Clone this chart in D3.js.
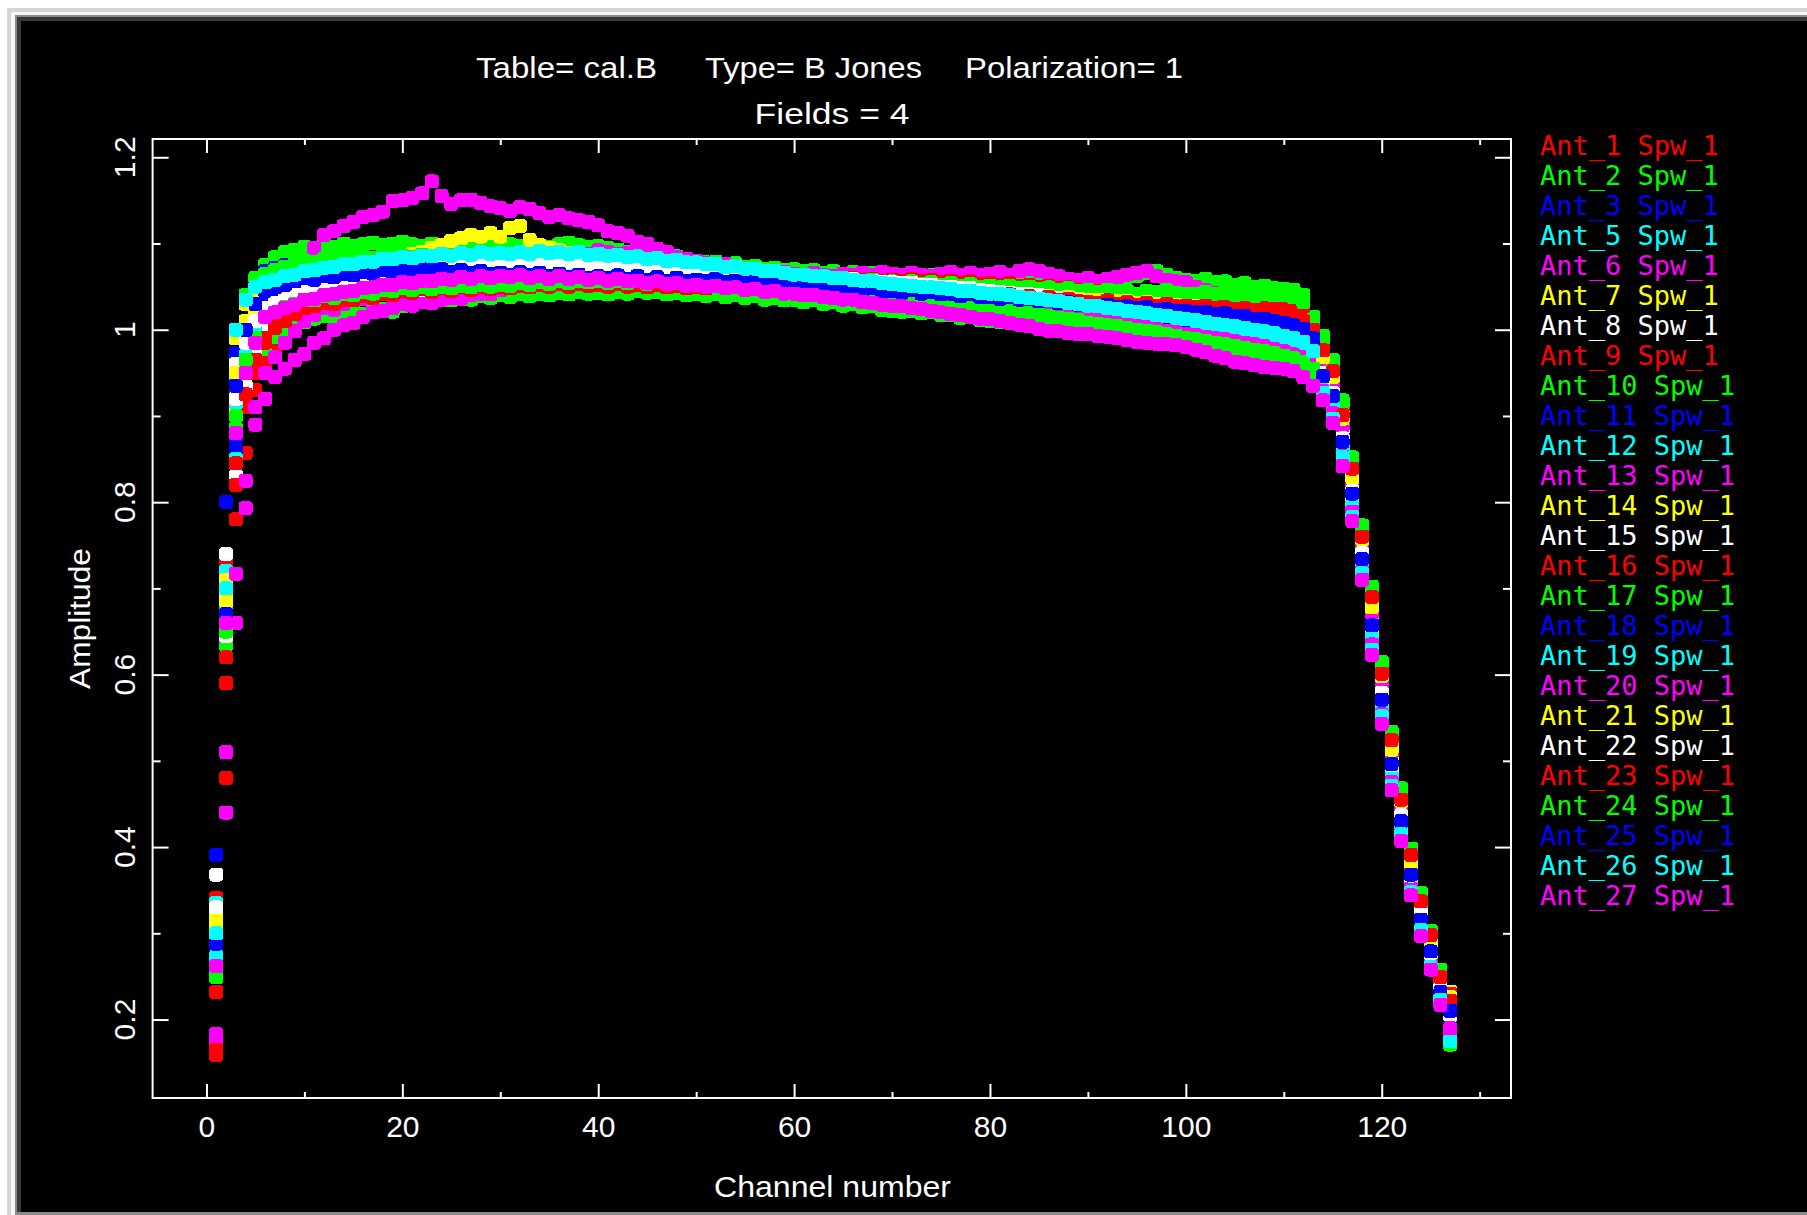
<!DOCTYPE html>
<html>
<head>
<meta charset="utf-8">
<script src="https://cdn.jsdelivr.net/npm/d3@7"></script>
<style>
  html, body { margin: 0; padding: 0; background: #ffffff; }
  svg { display: block; }
</style>
</head>
<body>
<svg id="chart" width="1807" height="1215"></svg>
<script>
// Bandpass (B Jones) amplitude per channel, one array per antenna.
// Values are amplitude x 1000, channels 1..127.
const ampAnt1 = [
  341, 730, 930, 975, 1000, 1004, 1012, 1021, 1027, 1035,
  1038, 1041, 1040, 1046, 1044, 1048, 1045, 1050, 1047, 1052,
  1049, 1053, 1050, 1056, 1052, 1054, 1057, 1053, 1058, 1055,
  1059, 1056, 1060, 1057, 1061, 1058, 1062, 1059, 1061, 1060,
  1063, 1059, 1061, 1058, 1062, 1057, 1060, 1056, 1059, 1058,
  1055, 1059, 1056, 1058, 1054, 1057, 1055, 1053, 1056, 1055,
  1052, 1056, 1054, 1057, 1053, 1055, 1052, 1056, 1053, 1054,
  1051, 1055, 1052, 1054, 1050, 1053, 1049, 1052, 1048, 1050,
  1047, 1049, 1045, 1048, 1044, 1046, 1042, 1045, 1041, 1042,
  1040, 1043, 1039, 1041, 1037, 1040, 1036, 1038, 1035, 1036,
  1034, 1037, 1033, 1035, 1032, 1034, 1030, 1031, 1029, 1028,
  1024, 1019, 1005, 970, 943, 895, 830, 755, 680, 596,
  515, 451, 383, 334, 291, 247, 217];
const ampAnt2 = [
  316, 665, 965, 1030, 1060, 1075, 1084, 1090, 1093, 1096,
  1094, 1098, 1096, 1100, 1097, 1099, 1101, 1098, 1100, 1102,
  1099, 1097, 1100, 1098, 1096, 1099, 1097, 1100, 1098, 1096,
  1099, 1097, 1095, 1098, 1096, 1099, 1101, 1098, 1096, 1097,
  1095, 1093, 1090, 1091, 1087, 1088, 1084, 1085, 1081, 1080,
  1078, 1079, 1076, 1077, 1073, 1074, 1071, 1072, 1069, 1070,
  1068, 1069, 1066, 1068, 1065, 1067, 1064, 1066, 1063, 1064,
  1062, 1065, 1061, 1063, 1060, 1062, 1059, 1063, 1060, 1061,
  1058, 1061, 1057, 1060, 1058, 1059, 1056, 1059, 1057, 1058,
  1056, 1059, 1058, 1061, 1062, 1066, 1068, 1064, 1060, 1058,
  1057, 1059, 1055, 1056, 1052, 1054, 1050, 1051, 1048, 1047,
  1046, 1040, 1015, 993, 965, 918, 852, 773, 702, 615,
  534, 468, 398, 347, 300, 250, 185];
const ampAnt3 = [
  391, 800, 973, 1035, 1060, 1068, 1072, 1075, 1073, 1076,
  1074, 1077, 1075, 1078, 1076, 1079, 1077, 1075, 1078, 1076,
  1079, 1077, 1080, 1078, 1076, 1079, 1081, 1078, 1080, 1077,
  1079, 1076, 1078, 1075, 1077, 1074, 1076, 1073, 1075, 1072,
  1074, 1070, 1072, 1068, 1070, 1066, 1068, 1064, 1066, 1063,
  1064, 1061, 1063, 1059, 1061, 1058, 1060, 1056, 1058, 1055,
  1056, 1053, 1055, 1051, 1053, 1049, 1051, 1047, 1049, 1045,
  1047, 1043, 1045, 1041, 1043, 1039, 1041, 1037, 1039, 1035,
  1037, 1033, 1035, 1031, 1033, 1029, 1031, 1027, 1028, 1025,
  1027, 1023, 1025, 1021, 1023, 1019, 1021, 1018, 1020, 1018,
  1016, 1019, 1014, 1016, 1012, 1014, 1010, 1011, 1007, 1005,
  1004, 1000, 988, 959, 932, 884, 819, 746, 668, 584,
  504, 442, 375, 326, 284, 241, 207];
const ampAnt5 = [
  335, 720, 940, 990, 1020, 1038, 1045, 1049, 1055, 1058,
  1061, 1064, 1066, 1069, 1070, 1073, 1075, 1077, 1078, 1080,
  1081, 1079, 1083, 1081, 1084, 1082, 1085, 1083, 1086, 1084,
  1087, 1085, 1086, 1084, 1087, 1085, 1086, 1083, 1085, 1084,
  1082, 1084, 1081, 1082, 1079, 1080, 1077, 1078, 1075, 1075,
  1073, 1074, 1071, 1072, 1069, 1068, 1066, 1067, 1064, 1062,
  1063, 1060, 1061, 1058, 1059, 1056, 1055, 1053, 1052, 1050,
  1051, 1048, 1049, 1046, 1047, 1044, 1045, 1042, 1043, 1040,
  1041, 1038, 1038, 1035, 1036, 1033, 1032, 1030, 1029, 1026,
  1026, 1023, 1023, 1020, 1020, 1017, 1016, 1014, 1013, 1010,
  1010, 1007, 1006, 1004, 1002, 999, 998, 995, 993, 990,
  989, 985, 975, 948, 921, 872, 808, 736, 655, 573,
  494, 432, 366, 318, 277, 234, 176];
const ampAnt6 = [
  176, 700, 900, 965, 1005, 1030, 1042, 1055, 1068, 1080,
  1095, 1110, 1114, 1120, 1125, 1131, 1133, 1137, 1149, 1150,
  1153, 1158, 1172, 1155, 1146, 1150, 1151, 1147, 1143, 1141,
  1138, 1142, 1140, 1135, 1131, 1133, 1129, 1127, 1125, 1121,
  1114, 1112, 1109, 1102, 1100, 1094, 1090, 1084, 1082, 1080,
  1077, 1074, 1076, 1072, 1070, 1071, 1068, 1066, 1067, 1065,
  1063, 1066, 1064, 1062, 1065, 1063, 1066, 1064, 1067, 1065,
  1063, 1066, 1064, 1062, 1065, 1067, 1064, 1066, 1063, 1065,
  1067, 1064, 1068, 1070, 1068, 1065, 1062, 1059, 1058, 1060,
  1057, 1059, 1061, 1064, 1066, 1068, 1062, 1058, 1056, 1055,
  1050, 1046, 1043, 1040, 1038, 1039, 1036, 1035, 1032, 1030,
  1028, 1020, 1000, 978, 950, 903, 837, 762, 688, 603,
  522, 457, 389, 339, 296, 251, 224];
const ampAnt7 = [
  325, 710, 990, 1030, 1050, 1055, 1057, 1059, 1060, 1062,
  1061, 1064, 1066, 1065, 1070, 1072, 1074, 1078, 1081, 1085,
  1088, 1090, 1095, 1098, 1103, 1106, 1110, 1108, 1112, 1108,
  1118, 1120, 1104, 1098, 1095, 1092, 1089, 1086, 1083, 1080,
  1078, 1075, 1076, 1072, 1073, 1069, 1071, 1066, 1068, 1065,
  1066, 1062, 1064, 1060, 1063, 1059, 1061, 1057, 1060, 1057,
  1058, 1055, 1057, 1053, 1056, 1052, 1054, 1050, 1052, 1049,
  1051, 1047, 1050, 1046, 1049, 1045, 1048, 1044, 1046, 1043,
  1045, 1041, 1044, 1040, 1043, 1039, 1042, 1038, 1041, 1038,
  1040, 1036, 1039, 1035, 1038, 1034, 1037, 1033, 1036, 1033,
  1035, 1031, 1033, 1029, 1031, 1027, 1029, 1025, 1027, 1024,
  1021, 1017, 1000, 974, 947, 899, 833, 759, 684, 599,
  518, 454, 386, 337, 293, 249, 232];
const ampAnt8 = [
  368, 740, 960, 1000, 1020, 1031, 1036, 1040, 1043, 1046,
  1048, 1047, 1051, 1053, 1052, 1056, 1055, 1058, 1057, 1060,
  1059, 1062, 1060, 1063, 1061, 1064, 1062, 1066, 1063, 1065,
  1067, 1064, 1066, 1068, 1065, 1069, 1066, 1068, 1070, 1067,
  1069, 1066, 1068, 1065, 1067, 1064, 1066, 1063, 1066, 1064,
  1062, 1064, 1061, 1063, 1060, 1061, 1058, 1060, 1057, 1058,
  1055, 1057, 1054, 1055, 1052, 1053, 1050, 1051, 1048, 1048,
  1046, 1047, 1044, 1045, 1042, 1043, 1040, 1041, 1038, 1038,
  1036, 1037, 1034, 1035, 1032, 1032, 1030, 1029, 1027, 1025,
  1024, 1022, 1021, 1019, 1018, 1016, 1015, 1013, 1012, 1010,
  1009, 1008, 1006, 1005, 1003, 1002, 1000, 999, 997, 995,
  993, 990, 980, 955, 928, 880, 815, 742, 663, 580,
  501, 438, 372, 323, 281, 238, 204];
const ampAnt9 = [
  159, 480, 780, 857, 930, 962, 980, 993, 1005, 1018,
  1025, 1030, 1028, 1034, 1035, 1038, 1036, 1041, 1040, 1043,
  1041, 1045, 1043, 1047, 1044, 1048, 1046, 1050, 1047, 1050,
  1052, 1049, 1053, 1050, 1054, 1051, 1055, 1052, 1056, 1055,
  1053, 1057, 1054, 1056, 1053, 1057, 1054, 1056, 1053, 1055,
  1052, 1056, 1053, 1055, 1051, 1054, 1050, 1053, 1051, 1052,
  1049, 1052, 1048, 1051, 1049, 1050, 1047, 1050, 1046, 1048,
  1045, 1048, 1044, 1047, 1043, 1046, 1042, 1045, 1041, 1043,
  1040, 1043, 1039, 1042, 1038, 1041, 1037, 1040, 1036, 1038,
  1035, 1038, 1034, 1037, 1033, 1036, 1032, 1035, 1031, 1032,
  1030, 1032, 1028, 1030, 1026, 1028, 1024, 1026, 1022, 1022,
  1019, 1015, 1002, 967, 939, 891, 826, 752, 676, 592,
  511, 448, 380, 331, 289, 245, 214];
const ampAnt10 = [
  249, 635, 885, 930, 960, 978, 991, 998, 1006, 1009,
  1013, 1016, 1014, 1019, 1021, 1018, 1022, 1024, 1021, 1027,
  1030, 1033, 1031, 1036, 1034, 1037, 1035, 1039, 1037, 1040,
  1038, 1041, 1039, 1042, 1040, 1043, 1041, 1044, 1042, 1043,
  1041, 1044, 1042, 1045, 1043, 1044, 1041, 1043, 1040, 1042,
  1039, 1041, 1038, 1040, 1037, 1039, 1035, 1037, 1034, 1035,
  1032, 1034, 1030, 1032, 1028, 1030, 1026, 1027, 1023, 1022,
  1021, 1022, 1019, 1020, 1017, 1017, 1014, 1015, 1011, 1010,
  1009, 1008, 1006, 1005, 1003, 1002, 1000, 999, 997, 995,
  994, 992, 991, 989, 988, 986, 985, 983, 982, 980,
  979, 977, 976, 974, 972, 970, 969, 967, 965, 962,
  960, 957, 948, 925, 899, 850, 785, 716, 631, 550,
  473, 413, 350, 302, 263, 221, 178];
const ampAnt11 = [
  285, 675, 860, 960, 1000, 1030, 1037, 1044, 1049, 1055,
  1053, 1058, 1056, 1061, 1059, 1062, 1060, 1064, 1062, 1065,
  1063, 1066, 1064, 1067, 1065, 1068, 1066, 1069, 1066, 1068,
  1065, 1067, 1064, 1066, 1063, 1065, 1062, 1064, 1061, 1063,
  1060, 1062, 1059, 1061, 1058, 1060, 1057, 1059, 1056, 1058,
  1055, 1057, 1054, 1056, 1053, 1054, 1051, 1053, 1050, 1052,
  1049, 1050, 1047, 1049, 1046, 1047, 1044, 1045, 1042, 1044,
  1041, 1042, 1039, 1041, 1038, 1039, 1036, 1037, 1034, 1035,
  1033, 1034, 1031, 1032, 1029, 1030, 1027, 1028, 1025, 1025,
  1023, 1024, 1021, 1022, 1020, 1021, 1018, 1019, 1017, 1018,
  1015, 1016, 1013, 1013, 1011, 1011, 1008, 1009, 1006, 1005,
  1002, 998, 985, 952, 925, 876, 811, 739, 659, 577,
  497, 435, 369, 321, 279, 236, 201];
const ampAnt12 = [
  294, 690, 850, 950, 990, 1024, 1031, 1038, 1044, 1050,
  1052, 1055, 1057, 1059, 1060, 1062, 1063, 1065, 1066, 1068,
  1067, 1070, 1069, 1071, 1070, 1073, 1072, 1074, 1073, 1075,
  1074, 1077, 1075, 1076, 1074, 1077, 1075, 1076, 1073, 1074,
  1072, 1073, 1071, 1071, 1069, 1069, 1067, 1068, 1065, 1065,
  1064, 1064, 1062, 1062, 1060, 1060, 1058, 1058, 1056, 1055,
  1055, 1053, 1053, 1051, 1051, 1049, 1049, 1047, 1046, 1045,
  1044, 1043, 1042, 1040, 1040, 1038, 1037, 1035, 1034, 1032,
  1031, 1030, 1029, 1027, 1026, 1024, 1023, 1021, 1019, 1017,
  1016, 1015, 1014, 1012, 1011, 1009, 1008, 1006, 1004, 1002,
  1001, 999, 998, 996, 995, 993, 992, 990, 988, 985,
  983, 980, 970, 940, 914, 865, 800, 729, 647, 565,
  487, 426, 361, 313, 272, 230, 191];
const ampAnt13 = [
  168, 440, 660, 793, 890, 920, 945, 955, 965, 972,
  985, 990, 1000, 1005, 1008, 1015, 1020, 1022, 1025, 1030,
  1028, 1032, 1031, 1035, 1037, 1036, 1040, 1042, 1041, 1046,
  1048, 1051, 1053, 1055, 1058, 1061, 1064, 1066, 1069, 1072,
  1071, 1074, 1073, 1075, 1076, 1074, 1073, 1072, 1071, 1070,
  1068, 1069, 1066, 1067, 1065, 1064, 1062, 1063, 1061, 1060,
  1061, 1058, 1060, 1057, 1059, 1056, 1058, 1055, 1057, 1055,
  1056, 1053, 1055, 1052, 1054, 1051, 1053, 1050, 1052, 1050,
  1051, 1048, 1049, 1046, 1047, 1044, 1046, 1043, 1044, 1042,
  1043, 1040, 1042, 1039, 1040, 1037, 1039, 1036, 1038, 1036,
  1037, 1034, 1035, 1032, 1033, 1030, 1031, 1028, 1027, 1025,
  1022, 1015, 1000, 963, 936, 888, 822, 749, 672, 588,
  508, 445, 378, 329, 286, 243, 211];
const ampAnt14 = [
  310, 695, 905, 985, 1020, 1045, 1049, 1052, 1050, 1055,
  1053, 1056, 1054, 1057, 1055, 1058, 1056, 1059, 1057, 1058,
  1056, 1059, 1057, 1060, 1058, 1061, 1056, 1059, 1054, 1062,
  1060, 1063, 1061, 1064, 1062, 1066, 1063, 1067, 1064, 1065,
  1063, 1066, 1064, 1065, 1062, 1064, 1061, 1063, 1061, 1062,
  1060, 1062, 1059, 1061, 1058, 1060, 1057, 1059, 1056, 1058,
  1055, 1057, 1054, 1056, 1053, 1055, 1052, 1054, 1051, 1052,
  1050, 1052, 1049, 1051, 1048, 1050, 1047, 1049, 1046, 1048,
  1045, 1047, 1044, 1046, 1043, 1045, 1042, 1044, 1041, 1042,
  1040, 1042, 1039, 1041, 1038, 1040, 1037, 1039, 1036, 1037,
  1035, 1037, 1034, 1035, 1032, 1033, 1030, 1031, 1029, 1028,
  1024, 1018, 1005, 982, 954, 907, 841, 765, 692, 607,
  525, 461, 392, 342, 298, 254, 227];
const ampAnt15 = [
  322, 645, 830, 935, 970, 1000, 1008, 1014, 1019, 1025,
  1027, 1031, 1030, 1035, 1034, 1038, 1037, 1041, 1040, 1045,
  1043, 1046, 1044, 1048, 1046, 1049, 1047, 1050, 1048, 1050,
  1049, 1052, 1050, 1053, 1051, 1054, 1052, 1055, 1053, 1055,
  1054, 1057, 1055, 1058, 1056, 1059, 1057, 1058, 1056, 1058,
  1055, 1057, 1054, 1056, 1053, 1055, 1052, 1054, 1051, 1052,
  1050, 1051, 1049, 1050, 1047, 1048, 1046, 1047, 1044, 1045,
  1043, 1044, 1041, 1042, 1040, 1040, 1038, 1038, 1036, 1035,
  1034, 1033, 1032, 1031, 1030, 1028, 1027, 1026, 1024, 1022,
  1021, 1020, 1018, 1017, 1016, 1014, 1013, 1011, 1010, 1008,
  1007, 1005, 1004, 1002, 1000, 999, 997, 995, 993, 990,
  988, 985, 975, 944, 918, 869, 804, 733, 651, 569,
  490, 429, 364, 316, 274, 232, 194];
const ampAnt16 = [
  232, 590, 820, 910, 950, 985, 1005, 1020, 1030, 1038,
  1041, 1044, 1043, 1047, 1046, 1049, 1048, 1051, 1050, 1052,
  1051, 1054, 1053, 1056, 1054, 1057, 1055, 1058, 1056, 1058,
  1057, 1060, 1058, 1061, 1059, 1062, 1060, 1063, 1061, 1063,
  1062, 1064, 1061, 1063, 1060, 1063, 1061, 1064, 1060, 1062,
  1061, 1063, 1060, 1062, 1059, 1062, 1060, 1061, 1059, 1060,
  1058, 1061, 1059, 1060, 1057, 1060, 1058, 1059, 1056, 1058,
  1057, 1059, 1056, 1058, 1055, 1057, 1054, 1056, 1053, 1054,
  1052, 1054, 1051, 1052, 1049, 1051, 1048, 1049, 1046, 1046,
  1045, 1046, 1043, 1045, 1042, 1044, 1041, 1042, 1040, 1040,
  1039, 1040, 1037, 1038, 1036, 1037, 1035, 1035, 1034, 1033,
  1030, 1025, 1010, 985, 958, 910, 845, 768, 696, 610,
  529, 464, 394, 345, 300, 256, 230];
const ampAnt17 = [
  258, 680, 1000, 1040, 1060, 1065, 1069, 1073, 1076, 1080,
  1078, 1082, 1080, 1083, 1081, 1085, 1083, 1086, 1084, 1086,
  1084, 1087, 1085, 1088, 1086, 1089, 1086, 1088, 1085, 1087,
  1085, 1088, 1084, 1087, 1083, 1086, 1082, 1085, 1081, 1082,
  1080, 1082, 1078, 1080, 1076, 1078, 1074, 1076, 1072, 1072,
  1070, 1071, 1068, 1069, 1066, 1067, 1064, 1065, 1062, 1062,
  1060, 1062, 1059, 1060, 1058, 1059, 1056, 1058, 1055, 1056,
  1054, 1056, 1053, 1055, 1052, 1054, 1051, 1053, 1050, 1051,
  1049, 1051, 1048, 1050, 1047, 1049, 1046, 1048, 1045, 1046,
  1044, 1046, 1043, 1045, 1042, 1045, 1044, 1046, 1043, 1042,
  1041, 1044, 1042, 1043, 1040, 1042, 1039, 1041, 1040, 1040,
  1038, 1032, 1012, 989, 961, 914, 848, 772, 700, 614,
  532, 467, 397, 347, 303, 258, 180];
const ampAnt18 = [
  279, 660, 875, 955, 990, 1015, 1022, 1029, 1034, 1040,
  1042, 1045, 1044, 1048, 1046, 1050, 1048, 1051, 1050, 1052,
  1051, 1054, 1053, 1056, 1054, 1057, 1055, 1058, 1056, 1058,
  1056, 1059, 1057, 1060, 1057, 1059, 1056, 1058, 1056, 1058,
  1055, 1057, 1054, 1056, 1053, 1055, 1052, 1054, 1052, 1054,
  1051, 1053, 1050, 1052, 1049, 1051, 1048, 1050, 1047, 1048,
  1046, 1047, 1044, 1045, 1043, 1043, 1041, 1041, 1039, 1038,
  1037, 1037, 1035, 1035, 1033, 1033, 1031, 1031, 1029, 1028,
  1027, 1027, 1025, 1025, 1023, 1023, 1021, 1021, 1019, 1018,
  1018, 1017, 1016, 1015, 1014, 1014, 1012, 1012, 1011, 1010,
  1009, 1008, 1007, 1006, 1004, 1003, 1001, 1000, 998, 995,
  992, 988, 978, 933, 907, 857, 793, 723, 639, 558,
  480, 420, 355, 308, 267, 226, 200];
const ampAnt19 = [
  273, 655, 915, 970, 1000, 1020, 1027, 1033, 1039, 1045,
  1046, 1050, 1051, 1054, 1055, 1058, 1058, 1061, 1061, 1064,
  1063, 1066, 1065, 1068, 1066, 1069, 1067, 1070, 1068, 1070,
  1069, 1071, 1069, 1072, 1069, 1071, 1068, 1070, 1067, 1068,
  1066, 1067, 1065, 1066, 1063, 1064, 1062, 1063, 1060, 1060,
  1059, 1059, 1057, 1057, 1055, 1055, 1053, 1053, 1051, 1050,
  1050, 1048, 1048, 1046, 1046, 1044, 1044, 1042, 1041, 1040,
  1039, 1037, 1037, 1035, 1034, 1032, 1032, 1030, 1028, 1026,
  1026, 1024, 1023, 1021, 1020, 1018, 1017, 1015, 1013, 1010,
  1010, 1008, 1007, 1005, 1004, 1002, 1001, 999, 997, 995,
  995, 993, 992, 990, 989, 987, 986, 984, 982, 980,
  978, 975, 965, 937, 910, 861, 796, 726, 643, 562,
  483, 423, 358, 310, 270, 228, 187];
const ampAnt20 = [
  183, 510, 717, 825, 910, 950, 968, 985, 998, 1010,
  1017, 1025, 1023, 1030, 1035, 1036, 1040, 1042, 1046, 1050,
  1054, 1058, 1056, 1060, 1062, 1066, 1069, 1072, 1071, 1075,
  1074, 1077, 1078, 1081, 1085, 1087, 1086, 1090, 1088, 1092,
  1090, 1088, 1089, 1085, 1085, 1082, 1080, 1078, 1076, 1074,
  1073, 1071, 1072, 1069, 1068, 1066, 1067, 1064, 1063, 1062,
  1060, 1059, 1057, 1056, 1054, 1053, 1051, 1049, 1047, 1045,
  1044, 1043, 1041, 1040, 1038, 1037, 1035, 1034, 1032, 1030,
  1029, 1027, 1026, 1024, 1023, 1021, 1019, 1017, 1015, 1012,
  1011, 1009, 1008, 1006, 1005, 1003, 1001, 999, 997, 995,
  994, 992, 990, 989, 987, 985, 983, 981, 978, 975,
  972, 968, 960, 929, 903, 853, 789, 720, 635, 554,
  476, 416, 352, 305, 265, 223, 181];
const ampAnt21 = [
  318, 685, 950, 1010, 1040, 1050, 1054, 1057, 1061, 1065,
  1063, 1066, 1068, 1067, 1070, 1069, 1072, 1071, 1074, 1075,
  1073, 1076, 1074, 1077, 1073, 1068, 1062, 1057, 1059, 1061,
  1058, 1063, 1066, 1069, 1071, 1073, 1070, 1074, 1071, 1070,
  1068, 1070, 1067, 1069, 1066, 1067, 1065, 1066, 1063, 1064,
  1062, 1063, 1061, 1062, 1060, 1060, 1058, 1059, 1057, 1058,
  1056, 1057, 1055, 1055, 1053, 1054, 1052, 1052, 1050, 1050,
  1049, 1049, 1047, 1048, 1046, 1046, 1044, 1045, 1043, 1043,
  1042, 1042, 1040, 1041, 1039, 1039, 1037, 1038, 1036, 1035,
  1035, 1034, 1033, 1033, 1031, 1032, 1030, 1030, 1029, 1028,
  1027, 1027, 1025, 1025, 1023, 1024, 1022, 1021, 1020, 1018,
  1014, 1008, 995, 968, 945, 897, 828, 757, 678, 598,
  513, 453, 381, 336, 289, 249, 226];
const ampAnt22 = [
  330, 700, 920, 985, 1010, 1025, 1031, 1036, 1040, 1045,
  1048, 1051, 1053, 1056, 1058, 1061, 1063, 1065, 1068, 1070,
  1071, 1073, 1074, 1076, 1075, 1077, 1076, 1079, 1077, 1078,
  1077, 1079, 1076, 1078, 1075, 1077, 1074, 1076, 1073, 1075,
  1073, 1075, 1072, 1074, 1071, 1073, 1070, 1072, 1069, 1070,
  1068, 1070, 1067, 1068, 1065, 1067, 1064, 1065, 1062, 1063,
  1061, 1062, 1060, 1060, 1058, 1059, 1057, 1057, 1055, 1055,
  1054, 1054, 1052, 1052, 1050, 1050, 1048, 1048, 1046, 1045,
  1044, 1043, 1042, 1041, 1040, 1038, 1037, 1036, 1034, 1032,
  1031, 1030, 1029, 1028, 1027, 1026, 1024, 1023, 1022, 1020,
  1019, 1017, 1016, 1014, 1013, 1011, 1009, 1007, 1005, 1002,
  999, 996, 985, 950, 927, 874, 813, 741, 657, 579,
  495, 437, 367, 323, 277, 238, 205];
const ampAnt23 = [
  165, 620, 845, 925, 965, 990, 1002, 1010, 1018, 1025,
  1027, 1031, 1030, 1035, 1034, 1039, 1037, 1042, 1040, 1045,
  1043, 1047, 1044, 1048, 1045, 1049, 1046, 1050, 1047, 1050,
  1048, 1051, 1049, 1052, 1050, 1053, 1050, 1053, 1051, 1052,
  1050, 1053, 1050, 1052, 1049, 1052, 1049, 1051, 1048, 1050,
  1048, 1051, 1048, 1050, 1047, 1050, 1047, 1049, 1046, 1048,
  1046, 1049, 1046, 1048, 1045, 1047, 1044, 1047, 1044, 1045,
  1043, 1046, 1042, 1045, 1041, 1044, 1040, 1043, 1039, 1040,
  1038, 1041, 1037, 1039, 1036, 1038, 1034, 1036, 1033, 1032,
  1031, 1034, 1030, 1032, 1029, 1031, 1028, 1030, 1027, 1028,
  1026, 1028, 1025, 1026, 1024, 1025, 1022, 1023, 1021, 1020,
  1016, 1010, 1000, 976, 952, 901, 839, 760, 690, 601,
  524, 455, 391, 337, 298, 249, 222];
const ampAnt24 = [
  254, 650, 900, 965, 990, 1015, 1020, 1026, 1030, 1035,
  1034, 1039, 1037, 1042, 1040, 1044, 1042, 1046, 1045, 1048,
  1046, 1049, 1047, 1050, 1048, 1051, 1049, 1052, 1050, 1052,
  1051, 1054, 1052, 1055, 1053, 1056, 1054, 1057, 1055, 1056,
  1054, 1057, 1054, 1056, 1053, 1056, 1053, 1055, 1052, 1054,
  1052, 1053, 1051, 1052, 1050, 1051, 1049, 1050, 1047, 1048,
  1046, 1047, 1044, 1045, 1043, 1043, 1041, 1041, 1039, 1038,
  1037, 1036, 1035, 1034, 1032, 1031, 1030, 1028, 1027, 1024,
  1024, 1022, 1021, 1019, 1018, 1016, 1014, 1013, 1011, 1008,
  1007, 1005, 1004, 1002, 1000, 999, 997, 995, 993, 990,
  989, 987, 985, 983, 981, 979, 977, 975, 973, 970,
  967, 963, 955, 922, 896, 846, 782, 713, 627, 547,
  469, 410, 347, 300, 260, 219, 171];
const ampAnt25 = [
  288, 670, 935, 1000, 1030, 1045, 1049, 1052, 1056, 1060,
  1058, 1062, 1061, 1065, 1063, 1067, 1065, 1069, 1067, 1070,
  1068, 1071, 1069, 1070, 1067, 1069, 1066, 1068, 1065, 1066,
  1064, 1067, 1063, 1066, 1062, 1065, 1061, 1064, 1060, 1062,
  1060, 1063, 1059, 1062, 1058, 1061, 1057, 1060, 1056, 1058,
  1056, 1059, 1055, 1057, 1054, 1056, 1052, 1055, 1051, 1052,
  1050, 1053, 1049, 1051, 1048, 1050, 1046, 1048, 1045, 1045,
  1043, 1046, 1042, 1044, 1041, 1042, 1039, 1041, 1038, 1038,
  1036, 1038, 1035, 1036, 1033, 1034, 1031, 1032, 1029, 1028,
  1027, 1029, 1026, 1027, 1025, 1026, 1023, 1024, 1022, 1022,
  1020, 1021, 1018, 1019, 1016, 1016, 1013, 1013, 1010, 1008,
  1005, 1001, 990, 946, 923, 870, 810, 734, 657, 571,
  496, 430, 368, 316, 279, 232, 210];
const ampAnt26 = [
  300, 700, 1000, 1035, 1050, 1055, 1058, 1062, 1064, 1068,
  1069, 1072, 1073, 1076, 1076, 1079, 1079, 1082, 1082, 1084,
  1083, 1086, 1085, 1088, 1086, 1089, 1087, 1090, 1088, 1089,
  1088, 1090, 1088, 1091, 1089, 1090, 1088, 1090, 1087, 1088,
  1086, 1087, 1084, 1085, 1082, 1083, 1080, 1081, 1078, 1078,
  1076, 1076, 1073, 1074, 1071, 1071, 1068, 1068, 1066, 1064,
  1064, 1062, 1062, 1060, 1060, 1058, 1057, 1056, 1054, 1053,
  1052, 1051, 1050, 1049, 1048, 1047, 1045, 1045, 1043, 1042,
  1041, 1040, 1038, 1037, 1036, 1034, 1033, 1031, 1030, 1028,
  1027, 1025, 1024, 1022, 1021, 1019, 1017, 1016, 1014, 1012,
  1011, 1009, 1007, 1005, 1004, 1002, 1000, 998, 996, 993,
  990, 986, 975, 927, 897, 852, 783, 718, 629, 552,
  471, 415, 348, 304, 261, 223, 175];
const ampAnt27 = [
  262, 660, 880, 950, 985, 1015, 1020, 1025, 1029, 1035,
  1036, 1040, 1041, 1044, 1045, 1048, 1049, 1052, 1052, 1055,
  1054, 1057, 1056, 1059, 1058, 1061, 1059, 1062, 1060, 1062,
  1061, 1063, 1060, 1062, 1059, 1062, 1059, 1061, 1058, 1060,
  1057, 1059, 1056, 1057, 1054, 1056, 1053, 1054, 1051, 1052,
  1050, 1051, 1048, 1049, 1046, 1047, 1044, 1045, 1042, 1042,
  1040, 1040, 1038, 1037, 1035, 1035, 1032, 1031, 1029, 1028,
  1027, 1025, 1024, 1022, 1020, 1018, 1017, 1015, 1013, 1012,
  1010, 1008, 1006, 1004, 1001, 999, 998, 996, 995, 995,
  993, 992, 990, 988, 986, 985, 984, 983, 982, 980,
  977, 974, 970, 967, 963, 961, 959, 957, 956, 955,
  952, 945, 935, 918, 892, 842, 778, 710, 623, 543,
  466, 407, 344, 297, 258, 217, 190];

const antennaLabels = [
  "Ant_1 Spw_1", "Ant_2 Spw_1", "Ant_3 Spw_1", "Ant_5 Spw_1", "Ant_6 Spw_1",
  "Ant_7 Spw_1", "Ant_8 Spw_1", "Ant_9 Spw_1", "Ant_10 Spw_1", "Ant_11 Spw_1",
  "Ant_12 Spw_1", "Ant_13 Spw_1", "Ant_14 Spw_1", "Ant_15 Spw_1", "Ant_16 Spw_1",
  "Ant_17 Spw_1", "Ant_18 Spw_1", "Ant_19 Spw_1", "Ant_20 Spw_1", "Ant_21 Spw_1",
  "Ant_22 Spw_1", "Ant_23 Spw_1", "Ant_24 Spw_1", "Ant_25 Spw_1", "Ant_26 Spw_1",
  "Ant_27 Spw_1"];
const antennaSeries = [
  ampAnt1, ampAnt2, ampAnt3, ampAnt5, ampAnt6, ampAnt7, ampAnt8, ampAnt9,
  ampAnt10, ampAnt11, ampAnt12, ampAnt13, ampAnt14, ampAnt15, ampAnt16,
  ampAnt17, ampAnt18, ampAnt19, ampAnt20, ampAnt21, ampAnt22, ampAnt23,
  ampAnt24, ampAnt25, ampAnt26, ampAnt27];
const penColors = ["#ff0000", "#00ff00", "#0000ff", "#00ffff", "#ff00ff", "#ffff00", "#ffffff"];

const xMajorTicks = [0, 20, 40, 60, 80, 100, 120];
const xMinorTicks = [10, 30, 50, 70, 90, 110, 130];
const yMajorTicks = [0.2, 0.4, 0.6, 0.8, 1.0, 1.2];
const yMinorTicks = [0.3, 0.5, 0.7, 0.9, 1.1];

const titleParts = [
  { text: "Table= cal.B", x: 476, len: 181 },
  { text: "Type= B Jones", x: 705, len: 217 },
  { text: "Polarization= 1", x: 965, len: 218 }];
const subtitle = "Fields = 4";
const xTitle = "Channel number";
const yTitle = "Amplitude";

// ---------------------------------------------------------------------------
const W = 1807, H = 1215;
const frame = { left: 152.6, right: 1511, top: 139, bottom: 1098 };
const textFont = "'Liberation Sans', 'DejaVu Sans', sans-serif";
const markerSize = 14;

const svg = d3.select("#chart");

// window chrome around the black plot device
svg.append("rect").attr("width", W).attr("height", H).attr("fill", "#ffffff");
svg.append("rect").attr("x", 7).attr("y", 8).attr("width", W - 7).attr("height", H - 8).attr("fill", "#d4d4d4");
svg.append("rect").attr("x", 11).attr("y", 12).attr("width", W - 11).attr("height", H - 12).attr("fill", "#f6f6f6");
svg.append("rect").attr("x", 15).attr("y", 15).attr("width", W - 15).attr("height", H - 15).attr("fill", "#8a8a8a");
svg.append("rect").attr("x", 17).attr("y", 17).attr("width", W - 17).attr("height", H - 17).attr("fill", "#3a3a3a");
svg.append("rect").attr("x", 21).attr("y", 21).attr("width", W - 21).attr("height", 1191).attr("fill", "#000000");
svg.append("rect").attr("x", 15).attr("y", 1212).attr("width", W - 15).attr("height", 3).attr("fill", "#8a8a8a");

const x = d3.scaleLinear().domain([-5.5, 133.2]).range([frame.left, frame.right]);
const y = d3.scaleLinear().domain([0.109, 1.2212]).range([frame.bottom, frame.top]);

// data points (filled, blocky dots), drawn antenna by antenna
antennaSeries.forEach((series, i) => {
  svg.append("g")
    .attr("fill", penColors[i % penColors.length])
    .attr("shape-rendering", "crispEdges")
    .selectAll("rect")
    .data(series)
    .join("rect")
    .attr("x", (v, j) => x(j + 1) - markerSize / 2)
    .attr("y", v => y(v / 1000) - markerSize / 2)
    .attr("width", markerSize)
    .attr("height", markerSize)
    .attr("rx", 4)
    .attr("ry", 4);
});

// frame
svg.append("rect")
  .attr("x", frame.left).attr("y", frame.top)
  .attr("width", frame.right - frame.left).attr("height", frame.bottom - frame.top)
  .attr("fill", "none").attr("stroke", "#ffffff").attr("stroke-width", 2);

function styleAxis(g) {
  g.select(".domain").remove();
  g.selectAll(".tick line").attr("stroke", "#ffffff").attr("stroke-width", 2);
}

// inward ticks on all four sides
svg.append("g").attr("transform", `translate(0,${frame.bottom})`)
  .call(d3.axisBottom(x).tickValues(xMajorTicks).tickSize(-14).tickPadding(18).tickFormat(d3.format("d")))
  .call(styleAxis)
  .call(g => g.selectAll("text")
    .attr("fill", "#ffffff")
    .attr("font-family", textFont)
    .attr("font-size", 30));
svg.append("g").attr("transform", `translate(0,${frame.bottom})`)
  .call(d3.axisBottom(x).tickValues(xMinorTicks).tickSize(-6).tickFormat(""))
  .call(styleAxis);
svg.append("g").attr("transform", `translate(0,${frame.top})`)
  .call(d3.axisTop(x).tickValues(xMajorTicks).tickSize(-14).tickFormat(""))
  .call(styleAxis);
svg.append("g").attr("transform", `translate(0,${frame.top})`)
  .call(d3.axisTop(x).tickValues(xMinorTicks).tickSize(-6).tickFormat(""))
  .call(styleAxis);
svg.append("g").attr("transform", `translate(${frame.left},0)`)
  .call(d3.axisLeft(y).tickValues(yMajorTicks).tickSize(-16).tickFormat(""))
  .call(styleAxis);
svg.append("g").attr("transform", `translate(${frame.left},0)`)
  .call(d3.axisLeft(y).tickValues(yMinorTicks).tickSize(-8).tickFormat(""))
  .call(styleAxis);
svg.append("g").attr("transform", `translate(${frame.right},0)`)
  .call(d3.axisRight(y).tickValues(yMajorTicks).tickSize(-16).tickFormat(""))
  .call(styleAxis);
svg.append("g").attr("transform", `translate(${frame.right},0)`)
  .call(d3.axisRight(y).tickValues(yMinorTicks).tickSize(-8).tickFormat(""))
  .call(styleAxis);

// rotated y tick labels
const yFmt = d3.format("~g");
svg.append("g").selectAll("text")
  .data(yMajorTicks)
  .join("text")
  .attr("transform", d => `translate(135,${y(d)}) rotate(-90)`)
  .attr("text-anchor", "middle")
  .attr("fill", "#ffffff")
  .attr("font-family", textFont)
  .attr("font-size", 30)
  .text(d => yFmt(d));

// titles
svg.append("g").selectAll("text")
  .data(titleParts)
  .join("text")
  .attr("x", d => d.x).attr("y", 78)
  .attr("textLength", d => d.len).attr("lengthAdjust", "spacingAndGlyphs")
  .attr("fill", "#ffffff").attr("font-family", textFont).attr("font-size", 30)
  .text(d => d.text);
svg.append("text")
  .attr("x", 754.6).attr("y", 124)
  .attr("textLength", 155).attr("lengthAdjust", "spacingAndGlyphs")
  .attr("fill", "#ffffff").attr("font-family", textFont).attr("font-size", 30)
  .text(subtitle);
svg.append("text")
  .attr("x", 714).attr("y", 1197)
  .attr("textLength", 237).attr("lengthAdjust", "spacingAndGlyphs")
  .attr("fill", "#ffffff").attr("font-family", textFont).attr("font-size", 30)
  .text(xTitle);
svg.append("text")
  .attr("transform", `translate(90,${(frame.top + frame.bottom) / 2}) rotate(-90)`)
  .attr("text-anchor", "middle")
  .attr("textLength", 141).attr("lengthAdjust", "spacingAndGlyphs")
  .attr("fill", "#ffffff").attr("font-family", textFont).attr("font-size", 30)
  .text(yTitle);

// antenna key
svg.append("g").selectAll("text")
  .data(antennaLabels)
  .join("text")
  .attr("x", 1540)
  .attr("y", (d, i) => 155 + 30 * i)
  .attr("fill", (d, i) => penColors[i % penColors.length])
  .attr("font-family", "'DejaVu Sans Mono', monospace")
  .attr("font-size", 27)
  .text(d => d);
</script>
</body>
</html>
